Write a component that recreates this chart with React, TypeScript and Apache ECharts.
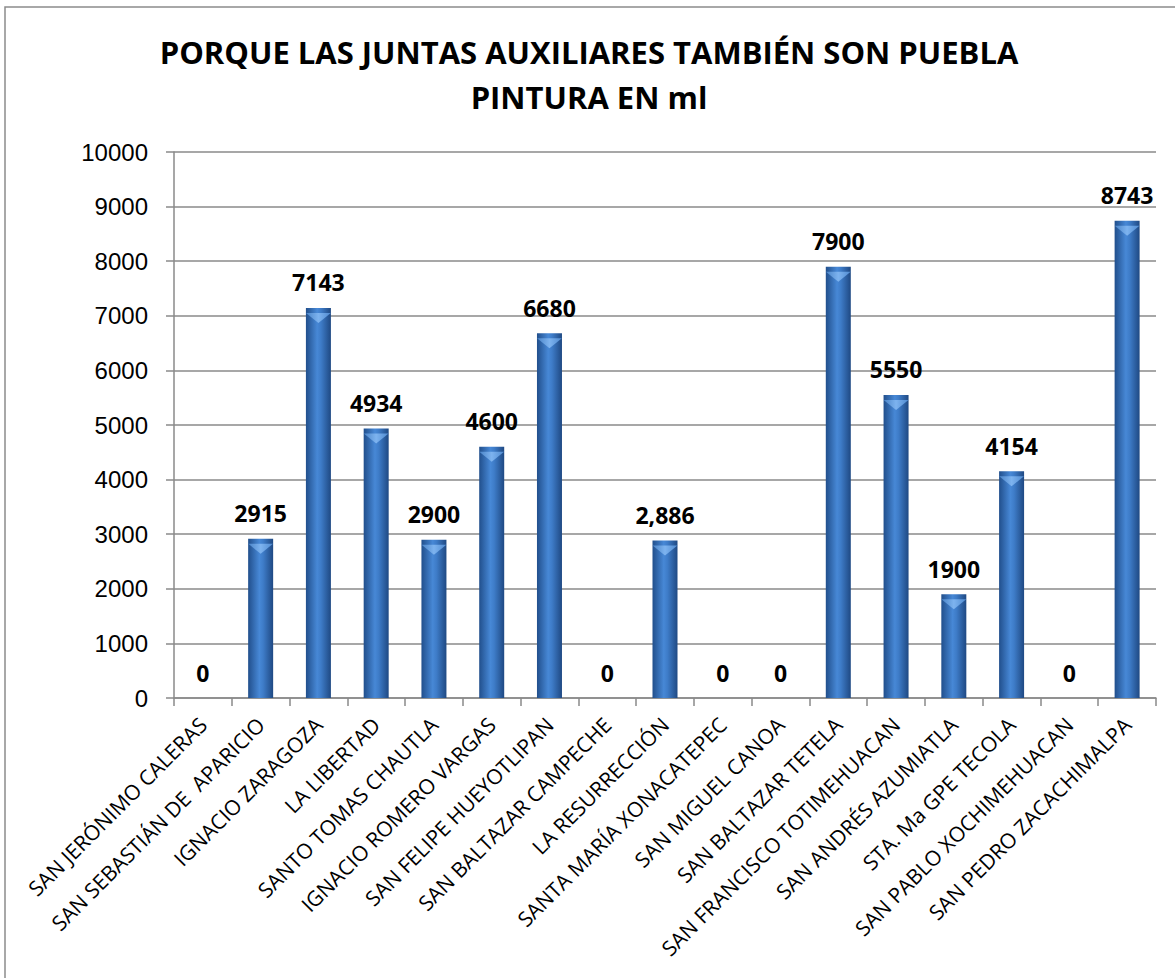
import React, { useEffect, useRef } from "react";
import * as echarts from "echarts";

const titleLines = ["PORQUE LAS JUNTAS AUXILIARES TAMBIÉN SON PUEBLA", "PINTURA EN ml"];

const categories = [
  "SAN JERÓNIMO CALERAS",
  "SAN SEBASTIÁN DE  APARICIO",
  "IGNACIO ZARAGOZA",
  "LA LIBERTAD",
  "SANTO TOMAS CHAUTLA",
  "IGNACIO ROMERO VARGAS",
  "SAN FELIPE HUEYOTLIPAN",
  "SAN BALTAZAR CAMPECHE",
  "LA RESURRECCIÓN",
  "SANTA MARÍA XONACATEPEC",
  "SAN MIGUEL CANOA",
  "SAN BALTAZAR TETELA",
  "SAN FRANCISCO TOTIMEHUACAN",
  "SAN ANDRÉS AZUMIATLA",
  "STA. Ma GPE TECOLA",
  "SAN PABLO XOCHIMEHUACAN",
  "SAN PEDRO ZACACHIMALPA",
];

const values = [0, 2915, 7143, 4934, 2900, 4600, 6680, 0, 2886, 0, 0, 7900, 5550, 1900, 4154, 0, 8743];

const valueLabels = ["0", "2915", "7143", "4934", "2900", "4600", "6680", "0", "2,886", "0", "0", "7900", "5550", "1900", "4154", "0", "8743"];

const yMin = 0;
const yMax = 10000;
const yInterval = 1000;

export default function App() {
  const ref = useRef<HTMLDivElement>(null);
  useEffect(() => {
    if (!ref.current) return;
    const chart = echarts.init(ref.current, undefined, { renderer: "svg" });
    const barColor = new echarts.graphic.LinearGradient(0, 0, 1, 0, [
      { offset: 0, color: "#214f8c" },
      { offset: 0.45, color: "#4788d6" },
      { offset: 0.6, color: "#3e7cc8" },
      { offset: 1, color: "#1f4983" },
    ]);
    const bevelColor = new echarts.graphic.LinearGradient(0, 0, 1, 0, [
      { offset: 0, color: "#4f8ad0" },
      { offset: 0.5, color: "#7db3ef" },
      { offset: 1, color: "#4a84c8" },
    ]);
    chart.setOption({
      animation: false,
      backgroundColor: "#ffffff",
      title: {
        text: titleLines.join("\n"),
        left: 584,
        textAlign: "center",
        top: 24,
        textStyle: {
          fontFamily: "Open Sans",
          fontWeight: "bold",
          fontSize: 31,
          lineHeight: 45,
          color: "#000",
        },
      },
      graphic: [
        {
          type: "rect",
          shape: { x: 5, y: 7, width: 1300, height: 1100 },
          style: { fill: "none", stroke: "#8c8c8c", lineWidth: 1.5 },
          silent: true,
        },
      ],
      grid: { left: 174, right: 19, top: 152, bottom: 280, containLabel: false },
      xAxis: {
        type: "category",
        data: categories,
        axisLine: { lineStyle: { color: "#8a8a8a", width: 1.5 } },
        axisTick: { show: true, length: 8, lineStyle: { color: "#8a8a8a", width: 1.5 } },
        axisLabel: {
          rotate: 45,
          interval: 0,
          margin: 23,
          fontFamily: "Open Sans",
          fontSize: 21,
          color: "#000",
        },
      },
      yAxis: {
        type: "value",
        min: yMin,
        max: yMax,
        interval: yInterval,
        axisLine: { show: true, lineStyle: { color: "#8a8a8a", width: 1.5 } },
        axisTick: { show: true, length: 8, lineStyle: { color: "#8a8a8a", width: 1.5 } },
        splitLine: { lineStyle: { color: "#8a8a8a", width: 1.5 } },
        axisLabel: {
          margin: 26,
          fontFamily: "Liberation Sans",
          fontSize: 24,
          color: "#000",
          formatter: (v: number) => String(v),
        },
      },
      series: [
        {
          type: "bar",
          data: values,
          barWidth: 25,
          barGap: "-100%",
          itemStyle: { color: barColor },
          label: {
            show: true,
            position: "top",
            distance: 14,
            formatter: (p: any) => valueLabels[p.dataIndex],
            fontFamily: "Open Sans",
            fontWeight: "bold",
            fontSize: 23,
            color: "#000",
          },
          z: 2,
        },
        {
          type: "pictorialBar",
          data: values.map((v) => (v > 0 ? v : "-")),
          barWidth: 25,
          barGap: "-100%",
          symbol: "triangle",
          symbolRotate: 180,
          symbolPosition: "end",
          symbolSize: [25, 10],
          symbolOffset: [0, "50%"],
          itemStyle: { color: bevelColor },
          silent: true,
          z: 3,
        },
      ],
    });
    return () => chart.dispose();
  }, []);
  return (
    <div
      ref={ref}
      style={{ position: "absolute", left: 0, top: 0, width: 1175, height: 978 }}
    />
  );
}
